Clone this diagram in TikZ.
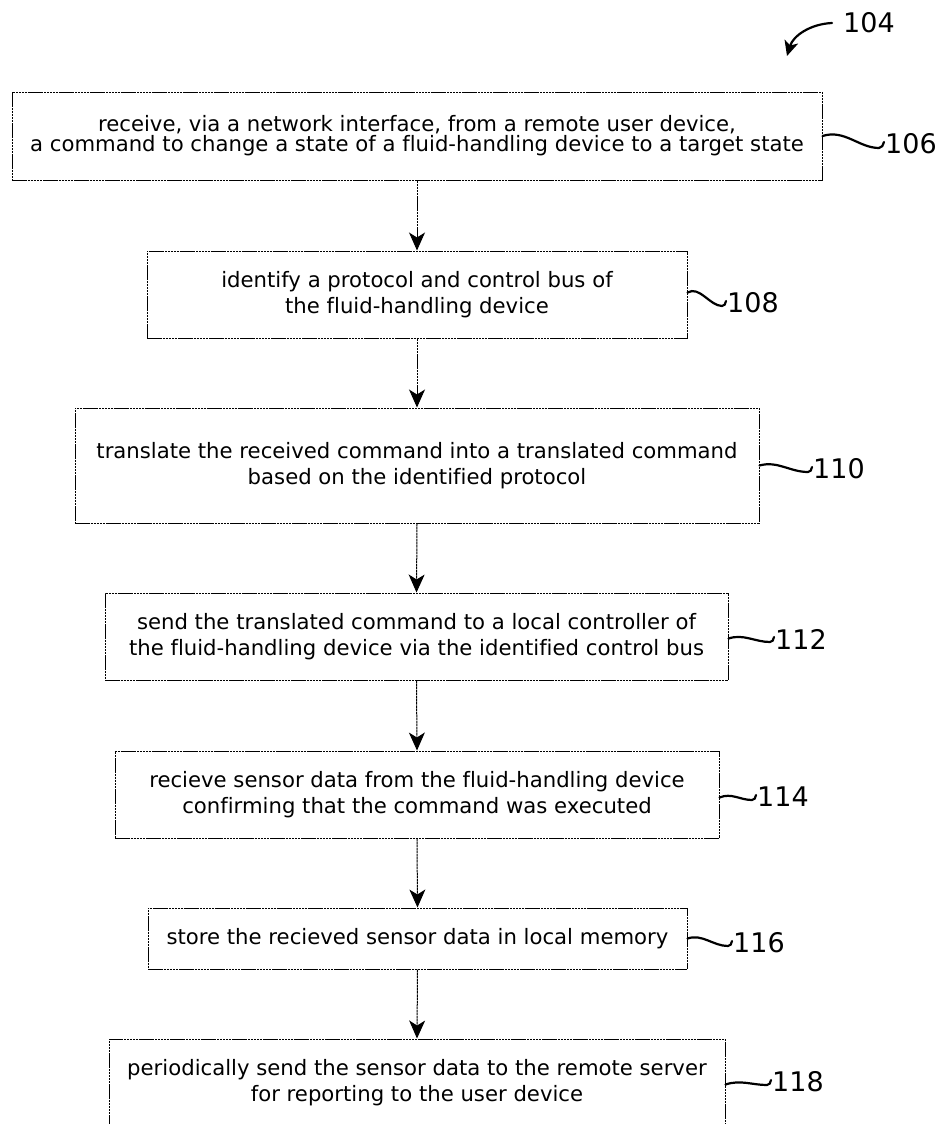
\documentclass[tikz,border=0pt]{standalone}
\usepackage{fontspec}
\setmainfont[Ligatures={NoCommon}]{DejaVu Sans}
\usetikzlibrary{arrows.meta,calc}
\begin{document}
\begin{tikzpicture}[x=1pt,y=-1pt,
  box/.style={draw=black, line width=1pt, dash pattern=on 2.5pt off 0.6pt, rectangle, inner sep=0pt, align=center, font=\fontsize{21.2}{26}\selectfont},
  flow/.style={draw=black, line width=1pt, dash pattern=on 2.5pt off 0.6pt, -{Stealth[length=18pt,width=16pt,inset=5pt]}},
  lab/.style={anchor=west, inner sep=0pt, font=\fontsize{27}{30}\selectfont},
  sq/.style={line width=2.2pt, line cap=round}
]
\useasboundingbox (0,0) rectangle (941,1124);
\clip (0,0) rectangle (941,1124);

\node[box, minimum width=810pt, minimum height=88pt, font=\fontsize{21.2}{20}\selectfont] (b106) at (417,136)
  {receive, via a network interface, from a remote user device,\\a command to change a state of a fluid-handling device to a target state};
\node[box, minimum width=540pt, minimum height=87pt] (b108) at (417,294.5)
  {identify a protocol and control bus of\\the fluid-handling device};
\node[box, minimum width=684pt, minimum height=115pt] (b110) at (417,465.5)
  {translate the received command into a translated command\\based on the identified protocol};
\node[box, minimum width=623pt, minimum height=87pt] (b112) at (416.5,636.5)
  {send the translated command to a local controller of\\the fluid-handling device via the identified control bus};
\node[box, minimum width=604pt, minimum height=87pt] (b114) at (417,794.5)
  {recieve sensor data from the fluid-handling device\\confirming that the command was executed};
\node[box, minimum width=539pt, minimum height=61pt] (b116) at (417.5,938.5)
  {store the recieved sensor data in local memory};
\node[box, minimum width=616pt, minimum height=87pt] (b118) at (417,1082.5)
  {periodically send the sensor data to the remote server\\for reporting to the user device};

\draw[flow] (b106.south) -- (b108.north);
\draw[flow] (b108.south) -- (b110.north);
\draw[flow] (b110.south) -- (b112.north);
\draw[flow] (b112.south) -- (b114.north);
\draw[flow] (b114.south) -- (b116.north);
\draw[flow] (b116.south) -- (b118.north);

\node[lab] (l104) at (843,23) {104};
\node[lab] (l106) at (885,144) {106};
\node[lab] (l108) at (727,303) {108};
\node[lab] (l110) at (813,469) {110};
\node[lab] (l112) at (775,639) {112};
\node[lab] (l114) at (757,797) {114};
\node[lab] (l116) at (733,943) {116};
\node[lab] (l118) at (772,1082) {118};

\coordinate (t104) at (787,56);
\draw[sq, -{Stealth[length=15pt,width=14pt,inset=4pt]}] ([xshift=-11pt]l104.west) .. controls +(-22,1) and +(6,-20) .. (t104);

\draw[sq] (b106.east) .. controls +(22,-7) and +(-20,0) .. ($(l106.west)+(-6,4)$) .. controls +(3,0) and +(-1,3) .. ($(l106.west)+(-1,-2)$);
\draw[sq] ([yshift=2pt]b108.east) .. controls +(12,-7) and +(-12,0) .. ($(l108.west)+(-5,3)$) .. controls +(3,0) and +(-1,3) .. ($(l108.west)+(-1,-2)$);
\draw[sq] (b110.east) .. controls +(18,-5) and +(-18,0) .. ($(l110.west)+(-5,3)$) .. controls +(3,0) and +(-1,3) .. ($(l110.west)+(-1,-2)$);
\draw[sq] ([yshift=-2pt]b112.east) .. controls +(15,-5) and +(-15,0) .. ($(l112.west)+(-5,3)$) .. controls +(3,0) and +(-1,3) .. ($(l112.west)+(-1,-2)$);
\draw[sq] ([yshift=-3pt]b114.east) .. controls +(12,-5) and +(-12,0) .. ($(l114.west)+(-5,3)$) .. controls +(3,0) and +(-1,3) .. ($(l114.west)+(-1,-2)$);
\draw[sq] (b116.east) .. controls +(15,-5) and +(-15,0) .. ($(l116.west)+(-5,3)$) .. controls +(3,0) and +(-1,3) .. ($(l116.west)+(-1,-2)$);
\draw[sq] ([yshift=-2pt]b118.east) .. controls +(15,-5) and +(-15,0) .. ($(l118.west)+(-5,3)$) .. controls +(3,0) and +(-1,3) .. ($(l118.west)+(-1,-2)$);
\end{tikzpicture}
\end{document}
